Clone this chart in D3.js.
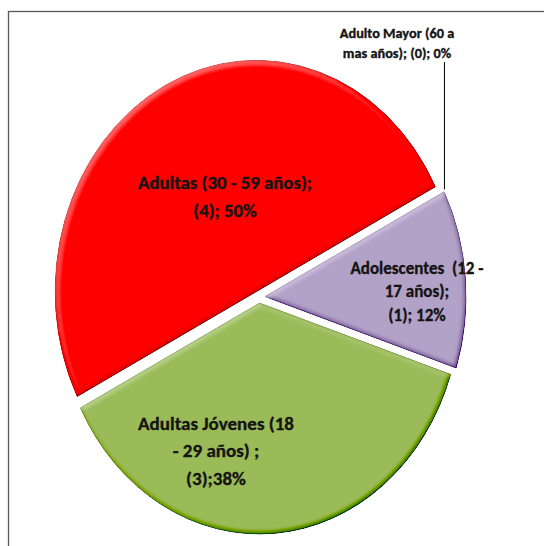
<!DOCTYPE html>
<html><head><meta charset="utf-8">
<script src="https://cdn.jsdelivr.net/npm/d3@7"></script>
<style>
html,body{margin:0;padding:0;background:#fff;}
svg{display:block;}
text{font-family:Carlito,'Liberation Sans Narrow','DejaVu Sans Condensed',sans-serif;font-weight:bold;fill:#141414;stroke:#141414;stroke-width:0.35px;white-space:pre;}
</style></head>
<body><svg id="c" width="544" height="546"></svg>
<script>
// ---- data ----
const categories = ["Adolescentes (12 - 17 años)", "Adultas Jóvenes (18 - 29 años)", "Adultas (30 - 59 años)", "Adulto Mayor (60 a mas años)"];
const values = [1, 3, 4, 0];
const percents = ["12%", "38%", "50%", "0%"];
const labelLines = [
  ["Adolescentes  (12 -", "17 años);", "(1); 12%"],
  ["Adultas Jóvenes (18", "- 29 años) ;", "(3);38%"],
  ["Adultas (30 - 59 años);", "(4); 50%"],
  ["Adulto Mayor (60 a", "mas años); (0); 0%"]
];
const colors = ["#b3a2c7", "#9bbb59", "#ff0000", "#7f7f7f"];
const edgeColors = ["#9584ad", "#7c9a3c", "#c00000", "#555"];

// ---- layout ----
const W = 544, H = 546;
const cx = 259, cy = 297, rx = 201, ry = 231, explode = 6;
const labelLayout = [
  {x: 417, y: 268, size: 17, lh: 23.5},
  {x: 216, y: 423, size: 19, lh: 27.5},
  {x: 225, y: 182, size: 18.8, lh: 28.5},
  {x: 397, y: 33, size: 14.3, lh: 20}
];

const svg = d3.select("#c");
svg.append("rect").attr("x", 8.5).attr("y", 11.5).attr("width", W + 20).attr("height", H + 20)
  .attr("fill", "none").attr("stroke", "#595959").attr("stroke-width", 1.3);

const defs = svg.append("defs");
const f = defs.append("filter").attr("id", "bevel").attr("x", "-5%").attr("y", "-5%").attr("width", "110%").attr("height", "110%");
f.append("feGaussianBlur").attr("in", "SourceAlpha").attr("stdDeviation", 2.5).attr("result", "blur");
const dl = f.append("feDiffuseLighting").attr("in", "blur").attr("surfaceScale", 3).attr("diffuseConstant", 1)
  .attr("lighting-color", "#fff").attr("result", "diff");
dl.append("feDistantLight").attr("azimuth", 235).attr("elevation", 50);
f.append("feComposite").attr("in", "SourceGraphic").attr("in2", "diff").attr("operator", "arithmetic")
  .attr("k1", 0).attr("k2", 1).attr("k3", 0.5).attr("k4", -0.5 * Math.sin(50 * Math.PI / 180)).attr("result", "lit");
f.append("feComposite").attr("in", "lit").attr("in2", "SourceAlpha").attr("operator", "in");

const start = 63 * Math.PI / 180;
const pie = d3.pie().sort(null).value(d => d).startAngle(start).endAngle(start + 2 * Math.PI);
const arcs = pie(values);
const arc = d3.arc().innerRadius(0).outerRadius(rx);
const k = ry / rx;

const g = svg.append("g");
arcs.forEach((a, i) => {
  if (a.endAngle - a.startAngle <= 0) return;
  const mid = (a.startAngle + a.endAngle) / 2;
  const ox = cx + explode * Math.sin(mid), oy = cy - explode * Math.cos(mid);
  g.append("g").attr("filter", "url(#bevel)")
    .append("path").attr("d", arc(a))
    .attr("transform", `translate(${ox},${oy}) scale(1,${k})`)
    .attr("fill", colors[i]).attr("stroke", edgeColors[i]).attr("stroke-width", 1)
    .attr("vector-effect", "non-scaling-stroke");
});

// leader line for zero slice
const z = arcs[3];
const zx = cx + explode * Math.sin(z.startAngle) + rx * Math.sin(z.startAngle);
const zy = cy - explode * Math.cos(z.startAngle) - ry * Math.cos(z.startAngle);
svg.append("line").attr("x1", zx + 1).attr("x2", zx + 1).attr("y1", 62).attr("y2", zy)
  .attr("stroke", "#000").attr("stroke-width", 1);

labelLines.forEach((lines, i) => {
  const L = labelLayout[i];
  const t = svg.append("text").attr("text-anchor", "middle").attr("xml:space", "preserve").style("font-size", L.size + "px");
  lines.forEach((s, j) => {
    t.append("tspan").attr("x", L.x).attr("y", L.y + j * L.lh).attr("dy", "0.35em").text(s);
  });
});
</script></body></html>
